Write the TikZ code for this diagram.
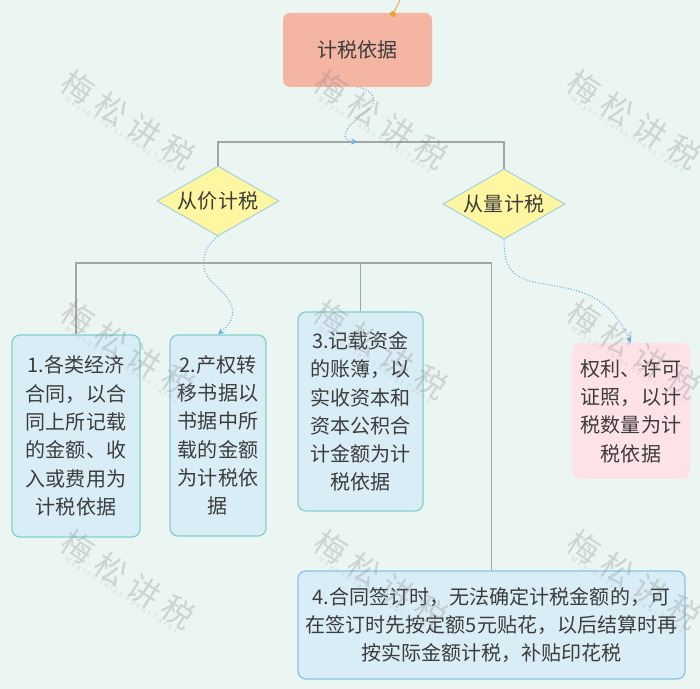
\documentclass[tikz,border=0pt]{standalone}
\usepackage{fontspec}
\usepackage{xcolor}
\usetikzlibrary{arrows, calc, shapes.geometric, positioning}
\setmainfont{Noto Sans CJK SC}
\newfontfamily\markfont[LetterSpace=26]{Noto Sans CJK SC}
\newfontfamily\marksubfont[LetterSpace=30]{Noto Sans CJK SC}
\definecolor{pagebg}{HTML}{EBF5F2}
\definecolor{inkgrey}{HTML}{3C3C3C}
\definecolor{linegrey}{HTML}{A3A6A4}
\definecolor{flowblue}{HTML}{6DB4DC}
\definecolor{rootred}{HTML}{F4B5A3}
\definecolor{diamondfill}{HTML}{FFF6A1}
\definecolor{diamondedge}{HTML}{9CCDE0}
\definecolor{leaffill}{HTML}{D9EDF7}
\definecolor{leafedge}{HTML}{80D2CE}
\definecolor{pinkfill}{HTML}{FDE3E8}
\definecolor{pinorange}{HTML}{E8A433}
\tikzset{
    label text/.style={text=inkgrey, font=\fontsize{11.4}{16.1}\selectfont, align=center, inner sep=0pt},
    rootbox/.style={label text, rectangle, rounded corners=0.14cm, fill=rootred, minimum width=2.98cm, minimum height=1.48cm},
    testbox/.style={label text, diamond, aspect=1.74, draw=diamondedge, fill=diamondfill, line width=0.5pt, minimum width=2.44cm, minimum height=1.40cm},
    leafbox/.style={label text, rectangle, rounded corners=0.16cm, draw=leafedge, fill=leaffill, line width=0.7pt, execute at begin node={\rule{0pt}{12.5pt}}},
    pinkbox/.style={label text, rectangle, rounded corners=0.16cm, fill=pinkfill, execute at begin node={\rule{0pt}{13pt}}},
    branch/.style={draw=linegrey, line width=1pt},
    flow/.style={draw=flowblue, line width=0.6pt, densely dotted, ->, >=stealth},
    markmain/.style={text=gray, text opacity=0.28, rotate=-33, inner sep=0pt, font=\markfont\fontsize{18}{18}\selectfont},
    marksub/.style={text=gray, text opacity=0.2, rotate=-33, inner sep=0pt, font=\marksubfont\fontsize{4.2}{5}\selectfont}
}
\begin{document}
\begin{tikzpicture}
    \useasboundingbox (0, 0) rectangle (14, -13.78);
    \fill[pagebg] (0, 0) rectangle (14, -13.78);
    % boxes
    \node[rootbox] (root) at (7.15, -1) {计税依据};
    \node[testbox] (valuetax) at (4.36, -4.02) {从价计税};
    \node[testbox] (amounttax) at (10.08, -4.08) {从量计税};
    \node[leafbox, minimum width=2.56cm, minimum height=4.04cm] (leafone) at (1.52, -8.72) {1.各类经济\\合同，以合\\同上所记载\\的金额、收\\入或费用为\\计税依据};
    \node[leafbox, minimum width=1.92cm, minimum height=4.02cm] (leaftwo) at (4.36, -8.71) {2.产权转\\移书据以\\书据中所\\载的金额\\为计税依\\据};
    \node[leafbox, minimum width=2.5cm, minimum height=3.98cm] (leafthree) at (7.21, -8.23) {3.记载资金\\的账簿，以\\实收资本和\\资本公积合\\计金额为计\\税依据};
    \node[leafbox, draw=flowblue!80, minimum width=7.74cm, minimum height=2.16cm] (leaffour) at (9.83, -12.5) {4.合同签订时，无法确定计税金额的，可\\在签订时先按定额5元贴花，以后结算时再\\按实际金额计税，补贴印花税};
    \node[pinkbox, minimum width=2.36cm, minimum height=2.72cm] (leaffive) at (12.62, -8.22) {权利、许可\\证照，以计\\税数量为计\\税依据};
    % joints
    \coordinate (rootjoin) at (7.15, -2.84);
    \coordinate (leafjoin) at (4.36, -5.26);
    \coordinate (pinend) at (8, 0);
    \node[circle, fill=pinorange, inner sep=0pt, minimum size=0.12cm] (pin) at (7.86, -0.28) {};
    \draw[pinorange, line width=0.5pt] (pin) -- (pinend);
    % grey brackets
    \draw[branch] (valuetax.north) |- (rootjoin) -| (amounttax.north);
    \draw[branch] (leafone.north) |- (leafjoin) -| (leaffour.north);
    \draw[branch] (leafthree.north) -- (leafthree.north |- leafjoin);
    % dotted flows
    \draw[flow] (root.south) .. controls (7.5, -1.8) and (7.6, -2.05) .. (7.3, -2.25) .. controls (7.0, -2.45) and (6.7, -2.8) .. (rootjoin);
    \draw[flow] (valuetax.south) .. controls (4.1, -4.9) and (3.95, -5.3) .. (4.2, -5.6) .. controls (4.45, -5.85) and (4.95, -6.2) .. (leaftwo.north);
    \draw[flow] (amounttax.south) .. controls (10.08, -5.3) and (10.2, -5.5) .. (10.6, -5.62) .. controls (11.3, -5.8) and (12.1, -5.7) .. (leaffive.north);
    % watermarks
    \foreach \col in {0, 1, 2} {
        \foreach \row in {0, 1, 2} {
            \node[markmain] (mark\col\row) at (2.56 + 5.06 * \col, -2.4 - 4.6 * \row) {梅松讲税};
            \node[marksub] (sub\col\row) at ([shift={(-0.14, -0.3)}]mark\col\row.center) {Mayson Talks About Taxes};
        }
    }
\end{tikzpicture}
\end{document}
